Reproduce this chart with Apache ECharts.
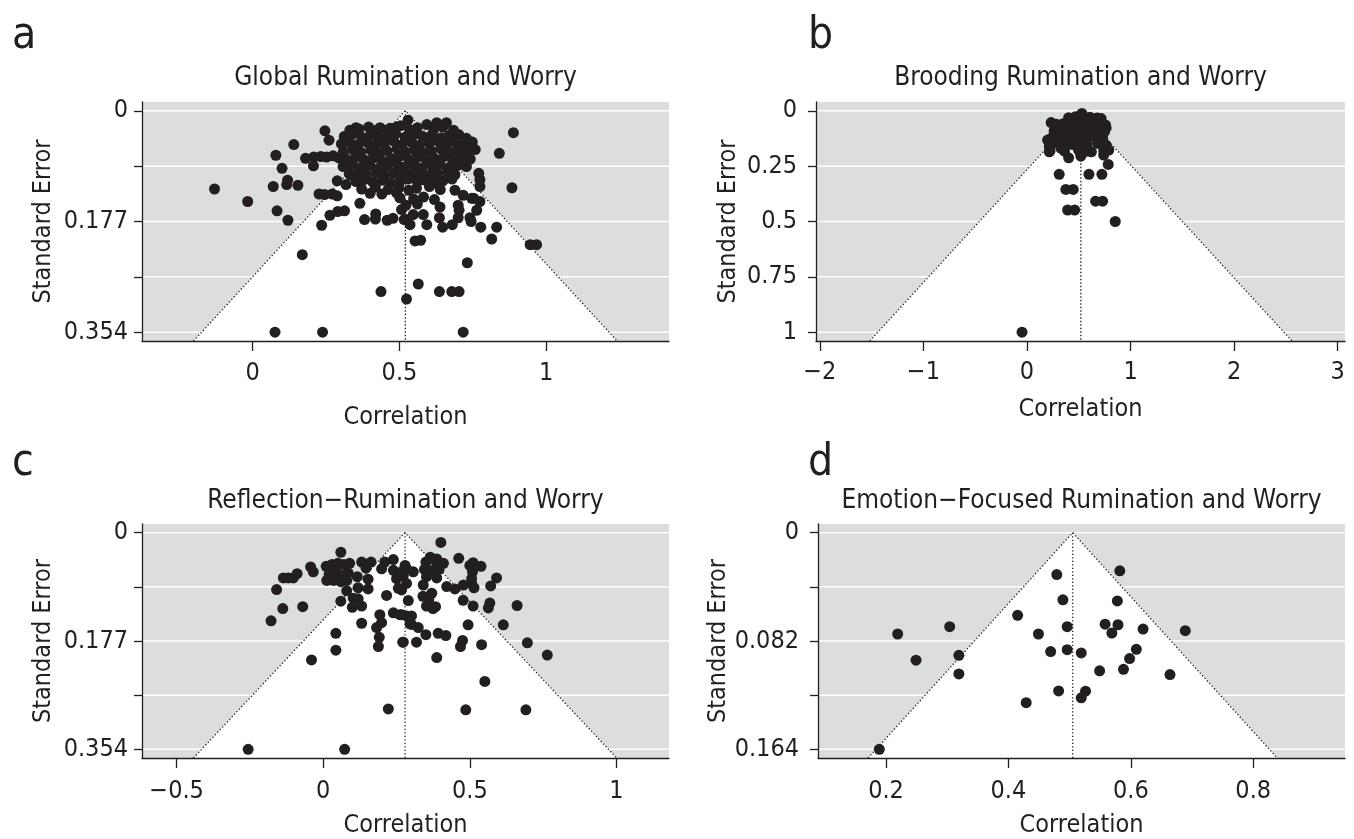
<!DOCTYPE html>
<html>
<head>
<meta charset="utf-8">
<title>Funnel plots: rumination and worry</title>
<script src="https://cdn.jsdelivr.net/npm/echarts@6/dist/echarts.min.js"></script>
<style>
  html, body { margin: 0; padding: 0; background: #fff; }
  #chart { width: 1354px; height: 839px; }
</style>
</head>
<body>
<div id="chart"></div>
<script>
// panel text
const panelLetters = ['a', 'b', 'c', 'd']
const panelTitles = [
  'Global Rumination and Worry',
  'Brooding Rumination and Worry',
  'Reflection\u2212Rumination and Worry',
  'Emotion\u2212Focused Rumination and Worry'
]

// pooled correlation (centre of each funnel)
const funnelCenters = [0.52, 0.52, 0.279, 0.505]

// axis ticks
const seTicks = [
  [0, 0.0885, 0.177, 0.2655, 0.354],
  [0, 0.25, 0.5, 0.75, 1],
  [0, 0.0885, 0.177, 0.2655, 0.354],
  [0, 0.041, 0.082, 0.123, 0.164]
]
const seLabels = [
  [0, 0.177, 0.354],
  [0, 0.25, 0.5, 0.75, 1],
  [0, 0.177, 0.354],
  [0, 0.082, 0.164]
]
const corrTicks = [
  [0, 0.5, 1],
  [-2, -1, 0, 1, 2, 3],
  [-0.5, 0, 0.5, 1],
  [0.2, 0.4, 0.6, 0.8]
]
const corrRanges = [[-0.377, 1.418], [-2.037, 3.07], [-0.618, 1.179], [0.0888, 0.950]]

// studies: [correlation, standard error]
const globalPoints = [
  [-0.13, 0.125], [-0.017, 0.145], [0.079, 0.071], [0.14, 0.054], [0.1, 0.092], [0.07, 0.121], [0.116, 0.118],
  [0.119, 0.111], [0.154, 0.119], [0.083, 0.16], [0.12, 0.175], [0.169, 0.23], [0.076, 0.354], [0.238, 0.354],
  [0.437, 0.289], [0.524, 0.301], [0.235, 0.183], [0.263, 0.167], [0.226, 0.133], [0.18, 0.076], [0.208, 0.074],
  [0.207, 0.088], [0.246, 0.032], [0.26, 0.047], [0.331, 0.031], [0.352, 0.027], [0.434, 0.027], [0.455, 0.032],
  [0.49, 0.026], [0.529, 0.015], [0.232, 0.073], [0.252, 0.074], [0.274, 0.072], [0.293, 0.075],
  [0.245, 0.134], [0.271, 0.133], [0.288, 0.136], [0.29, 0.161], [0.313, 0.16], [0.365, 0.148], [0.381, 0.174],
  [0.418, 0.173], [0.458, 0.175], [0.478, 0.172], [0.419, 0.165], [0.524, 0.174], [0.4, 0.132], [0.44, 0.133],
  [0.49, 0.131], [0.288, 0.112], [0.318, 0.118], [0.336, 0.103],
  [0.888, 0.035], [0.84, 0.068], [0.883, 0.123], [0.945, 0.214], [0.967, 0.214], [0.731, 0.243], [0.564, 0.277],
  [0.636, 0.289], [0.678, 0.289], [0.703, 0.289], [0.717, 0.354], [0.553, 0.208], [0.572, 0.207], [0.814, 0.205],
  [0.777, 0.186], [0.831, 0.186], [0.647, 0.186], [0.68, 0.182], [0.593, 0.182], [0.536, 0.182], [0.516, 0.174],
  [0.547, 0.166], [0.581, 0.166], [0.636, 0.171], [0.7, 0.171], [0.74, 0.171], [0.744, 0.177], [0.763, 0.159],
  [0.7, 0.151], [0.703, 0.159], [0.638, 0.154], [0.774, 0.121], [0.753, 0.14], [0.774, 0.145], [0.689, 0.127],
  [0.717, 0.135], [0.746, 0.14], [0.507, 0.158], [0.627, 0.019], [0.66, 0.019], [0.74, 0.063], [0.734, 0.074],
  [0.77, 0.1], [0.774, 0.11],
  [0.362, 0.029], [0.395, 0.026], [0.422, 0.031], [0.468, 0.028], [0.503, 0.024], [0.534, 0.03], [0.561, 0.027],
  [0.593, 0.022], [0.618, 0.029], [0.648, 0.026], [0.684, 0.031],
  [0.312, 0.041], [0.338, 0.038], [0.371, 0.042], [0.401, 0.039], [0.428, 0.043], [0.461, 0.04], [0.487, 0.037],
  [0.519, 0.042], [0.548, 0.039], [0.579, 0.041], [0.611, 0.038], [0.642, 0.043], [0.668, 0.04], [0.702, 0.038],
  [0.728, 0.044],
  [0.302, 0.053], [0.329, 0.05], [0.358, 0.054], [0.391, 0.051], [0.418, 0.055], [0.449, 0.052], [0.481, 0.049],
  [0.509, 0.054], [0.542, 0.051], [0.568, 0.055], [0.601, 0.052], [0.632, 0.049], [0.659, 0.054], [0.691, 0.051],
  [0.72, 0.053], [0.748, 0.05],
  [0.309, 0.065], [0.341, 0.062], [0.368, 0.066], [0.402, 0.063], [0.431, 0.067], [0.458, 0.064], [0.492, 0.061],
  [0.521, 0.066], [0.551, 0.063], [0.582, 0.067], [0.609, 0.064], [0.641, 0.061], [0.672, 0.066], [0.698, 0.063],
  [0.731, 0.065], [0.758, 0.062],
  [0.318, 0.077], [0.351, 0.074], [0.379, 0.078], [0.411, 0.075], [0.438, 0.079], [0.472, 0.076], [0.499, 0.073],
  [0.531, 0.078], [0.559, 0.075], [0.592, 0.079], [0.619, 0.076], [0.652, 0.073], [0.681, 0.078], [0.709, 0.075],
  [0.741, 0.077],
  [0.308, 0.089], [0.338, 0.086], [0.371, 0.09], [0.399, 0.087], [0.432, 0.091], [0.459, 0.088], [0.491, 0.085],
  [0.518, 0.09], [0.549, 0.087], [0.578, 0.091], [0.611, 0.088], [0.638, 0.085], [0.671, 0.09], [0.699, 0.087],
  [0.728, 0.089],
  [0.329, 0.101], [0.361, 0.098], [0.388, 0.102], [0.421, 0.099], [0.449, 0.103], [0.481, 0.1], [0.509, 0.097],
  [0.541, 0.102], [0.568, 0.099], [0.601, 0.103], [0.629, 0.1], [0.661, 0.097], [0.689, 0.102],
  [0.352, 0.113], [0.381, 0.11], [0.409, 0.114], [0.442, 0.111], [0.469, 0.115], [0.502, 0.112], [0.529, 0.109],
  [0.561, 0.114], [0.589, 0.111], [0.621, 0.115], [0.648, 0.112], [0.679, 0.109],
  [0.371, 0.125], [0.418, 0.122], [0.461, 0.126], [0.498, 0.123], [0.532, 0.127], [0.558, 0.124], [0.602, 0.121],
  [0.639, 0.126], [0.501, 0.139], [0.548, 0.141], [0.582, 0.138], [0.619, 0.142], [0.522, 0.151], [0.561, 0.149]
]

const broodingPoints = [
  [-0.048, 1.0], [0.852, 0.5], [0.392, 0.448], [0.46, 0.448], [0.662, 0.408], [0.73, 0.408], [0.375, 0.355],
  [0.446, 0.355], [0.311, 0.287], [0.598, 0.287], [0.723, 0.287], [0.784, 0.242], [0.402, 0.212], [0.52, 0.205],
  [0.622, 0.185], [0.216, 0.185], [0.216, 0.162], [0.199, 0.132], [0.233, 0.053], [0.764, 0.077], [0.79, 0.177],
  [0.74, 0.2], [0.716, 0.035], [0.53, 0.012], [0.33, 0.17], [0.38, 0.155], [0.317, 0.125],
  [0.402, 0.031], [0.468, 0.027], [0.541, 0.033], [0.609, 0.029], [0.678, 0.032],
  [0.282, 0.061], [0.348, 0.058], [0.421, 0.062], [0.489, 0.059], [0.561, 0.063], [0.628, 0.057], [0.701, 0.061],
  [0.758, 0.064],
  [0.262, 0.091], [0.331, 0.088], [0.398, 0.092], [0.471, 0.089], [0.542, 0.093], [0.611, 0.087], [0.682, 0.091],
  [0.748, 0.094],
  [0.241, 0.121], [0.309, 0.118], [0.382, 0.122], [0.451, 0.119], [0.522, 0.123], [0.591, 0.117], [0.661, 0.121],
  [0.731, 0.124],
  [0.221, 0.151], [0.302, 0.148], [0.441, 0.152], [0.509, 0.149], [0.578, 0.153], [0.681, 0.147], [0.762, 0.154],
  [0.223, 0.179], [0.361, 0.182], [0.498, 0.178], [0.571, 0.183], [0.741, 0.18]
]

const reflectionPoints = [
  [-0.256, 0.354], [0.073, 0.354], [0.222, 0.288], [-0.04, 0.208], [0.043, 0.192], [0.043, 0.1645], [-0.178, 0.144],
  [-0.138, 0.124], [-0.07, 0.121], [-0.159, 0.093], [-0.136, 0.074], [-0.119, 0.074], [-0.102, 0.074],
  [-0.089, 0.067], [-0.043, 0.056], [-0.034, 0.064], [0.06, 0.032],
  [0.01, 0.055], [0.03, 0.052], [0.05, 0.05], [0.07, 0.052], [0.09, 0.05], [0.02, 0.068], [0.045, 0.065],
  [0.065, 0.07], [0.085, 0.066], [0.012, 0.078], [0.035, 0.078], [0.06, 0.08], [0.08, 0.078],
  [0.08, 0.095], [0.06, 0.112], [0.102, 0.107], [0.119, 0.108], [0.131, 0.12], [0.099, 0.122], [0.116, 0.072],
  [0.153, 0.076], [0.153, 0.092], [0.119, 0.09], [0.131, 0.048], [0.163, 0.048], [0.146, 0.058], [0.131, 0.148],
  [0.193, 0.134], [0.199, 0.147], [0.182, 0.155], [0.191, 0.171], [0.188, 0.186], [0.216, 0.1025], [0.21, 0.048],
  [0.239, 0.044], [0.199, 0.059], [0.239, 0.0615], [0.25, 0.075], [0.273, 0.07], [0.284, 0.059], [0.256, 0.091],
  [0.284, 0.083], [0.239, 0.131], [0.261, 0.134], [0.284, 0.136], [0.296, 0.149], [0.271, 0.179], [0.29, 0.111],
  [0.401, 0.016], [0.462, 0.042],
  [0.35, 0.048], [0.365, 0.04], [0.38, 0.045], [0.39, 0.052], [0.41, 0.05], [0.345, 0.06], [0.37, 0.062],
  [0.395, 0.06], [0.387, 0.043],
  [0.279, 0.0535], [0.307, 0.064], [0.267, 0.064], [0.352, 0.072], [0.387, 0.074], [0.341, 0.0855], [0.37, 0.099],
  [0.267, 0.0935], [0.421, 0.088], [0.449, 0.092], [0.478, 0.0855], [0.506, 0.083], [0.514, 0.09], [0.5, 0.0535],
  [0.511, 0.049], [0.538, 0.055], [0.509, 0.064], [0.506, 0.075], [0.591, 0.074], [0.571, 0.087], [0.661, 0.119],
  [0.477, 0.1105], [0.511, 0.12], [0.563, 0.123], [0.568, 0.115], [0.614, 0.1506], [0.494, 0.1506],
  [0.267, 0.134], [0.301, 0.136], [0.301, 0.15], [0.324, 0.155], [0.35, 0.1666], [0.392, 0.1645], [0.418, 0.168],
  [0.273, 0.179], [0.318, 0.179], [0.475, 0.176], [0.468, 0.186], [0.54, 0.183], [0.696, 0.18], [0.764, 0.2],
  [0.387, 0.204], [0.551, 0.243], [0.486, 0.2895], [0.691, 0.2895],
  [0.352, 0.12], [0.374, 0.124], [0.383, 0.121], [0.34, 0.104], [0.36, 0.11]
]

const emotionPoints = [
  [0.189, 0.164], [0.219, 0.0767], [0.249, 0.0965], [0.304, 0.0712], [0.319, 0.0928], [0.319, 0.1069],
  [0.415, 0.0626], [0.449, 0.0767], [0.469, 0.09], [0.479, 0.0317], [0.489, 0.0508], [0.496, 0.0712],
  [0.496, 0.0886], [0.519, 0.091], [0.429, 0.1287], [0.482, 0.1198], [0.519, 0.125], [0.526, 0.12],
  [0.549, 0.1046], [0.558, 0.0693], [0.569, 0.076], [0.579, 0.0697], [0.578, 0.0517], [0.582, 0.0289],
  [0.588, 0.1034], [0.598, 0.0953], [0.609, 0.0883], [0.62, 0.073], [0.664, 0.1074], [0.689, 0.0742]
]

const panelPoints = [globalPoints, broodingPoints, reflectionPoints, emotionPoints]

const ink = '#231f20'
const shade = '#dcdddf'
const font = "'Liberation Sans Narrow', 'Arial Narrow', 'DejaVu Sans Condensed', sans-serif"

const boxes = [
  { left: 142, top: 102, width: 527, height: 239, labelMargin: 20, xNameGap: 64, yMargin: 14, yNameGap: 86, titleY: 77, letterY: 37 },
  { left: 816, top: 102, width: 529, height: 239, labelMargin: 19, xNameGap: 56, yMargin: 19, yNameGap: 75, titleY: 77, letterY: 37 },
  { left: 142, top: 524, width: 527, height: 239, labelMargin: 21, xNameGap: 55, yMargin: 14, yNameGap: 86, titleY: 500, letterY: 464 },
  { left: 818, top: 524, width: 527, height: 239, labelMargin: 21, xNameGap: 55, yMargin: 19, yNameGap: 77, titleY: 500, letterY: 464 }
]

function fmt(v) {
  return String(v).replace('-', '\u2212')
}

// white funnel, white reference lines and the dotted edges, drawn in data space
function funnelBackdrop(i) {
  const c = funnelCenters[i]
  const ticks = seTicks[i]
  const yMax = ticks[ticks.length - 1] * 1.04
  const xr = corrRanges[i]
  return {
    type: 'custom',
    xAxisIndex: i,
    yAxisIndex: i,
    silent: true,
    z: 1,
    clip: false,
    data: [[c, 0]],
    renderItem: function(params, api) {
      const kids = []
      ticks.forEach(function(t) {
        const a = api.coord([xr[0], t])
        const b = api.coord([xr[1], t])
        kids.push({ type: 'line', shape: { x1: a[0], y1: a[1], x2: b[0], y2: b[1] }, style: { stroke: '#fff', lineWidth: 1.5 }})
      })
      const apex = api.coord([c, 0])
      const bl = api.coord([c - 1.96 * yMax, yMax])
      const br = api.coord([c + 1.96 * yMax, yMax])
      const bc = api.coord([c, yMax])
      kids.push({ type: 'polygon', shape: { points: [apex, bl, br] }, style: { fill: '#fff' }})
      kids.push({ type: 'polyline', shape: { points: [bl, apex, br] }, style: { stroke: ink, lineWidth: 1.3, lineDash: [1.3, 2.2], fill: null }})
      kids.push({ type: 'line', shape: { x1: apex[0], y1: apex[1], x2: bc[0], y2: bc[1] }, style: { stroke: ink, lineWidth: 1.3, lineDash: [1.3, 2.2] }})
      return { type: 'group', children: kids }
    }
  }
}

const chart = echarts.init(document.getElementById('chart'), null, { renderer: 'canvas' })

const grid = []
const xAxis = []
const yAxis = []
const series = []
const title = []

boxes.forEach(function(b, i) {
  const top = seTicks[i][seTicks[i].length - 1]
  grid.push({ left: b.left, top: b.top, width: b.width, height: b.height, show: true, backgroundColor: shade, borderWidth: 0, z: 0 })

  xAxis.push({
    type: 'value',
    gridIndex: i,
    min: corrRanges[i][0],
    max: corrRanges[i][1],
    z: 3,
    name: 'Correlation',
    nameLocation: 'middle',
    nameGap: b.xNameGap,
    nameTextStyle: { color: ink, fontSize: 25, fontFamily: font },
    axisLine: { show: true, onZero: false, lineStyle: { color: ink, width: 1.3 }},
    axisTick: { show: true, length: 10, customValues: corrTicks[i], lineStyle: { color: ink, width: 1.3 }},
    axisLabel: { customValues: corrTicks[i], margin: b.labelMargin, color: ink, fontSize: 25, fontFamily: font, formatter: fmt },
    splitLine: { show: false }
  })

  yAxis.push({
    type: 'value',
    gridIndex: i,
    inverse: true,
    min: -top * 0.04,
    max: top * 1.04,
    z: 3,
    name: 'Standard Error',
    nameLocation: 'middle',
    nameGap: b.yNameGap,
    nameTextStyle: { color: ink, fontSize: 25, fontFamily: font },
    axisLine: { show: true, onZero: false, lineStyle: { color: ink, width: 1.3 }},
    axisTick: { show: true, length: 8, customValues: seTicks[i], lineStyle: { color: ink, width: 1.3 }},
    axisLabel: { customValues: seLabels[i], margin: b.yMargin, color: ink, fontSize: 25, fontFamily: font, formatter: fmt },
    splitLine: { show: false }
  })

  series.push(funnelBackdrop(i))
  series.push({
    type: 'scatter',
    name: panelTitles[i],
    xAxisIndex: i,
    yAxisIndex: i,
    z: 4,
    symbol: 'circle',
    symbolSize: 11,
    itemStyle: { color: ink, opacity: 1 },
    data: panelPoints[i]
  })

  title.push({
    text: panelTitles[i],
    left: b.left + b.width / 2,
    top: b.titleY - 13,
    textAlign: 'center',
    padding: 0,
    textStyle: { color: ink, fontSize: 26, fontWeight: 'normal', fontFamily: font, lineHeight: 28 }
  })
  title.push({
    text: panelLetters[i],
    left: i % 2 === 0 ? 12 : 808,
    top: b.letterY - 22,
    padding: 0,
    textStyle: { color: ink, fontSize: 44, fontWeight: 'normal', fontFamily: font, lineHeight: 44 }
  })
})

chart.setOption({
  backgroundColor: '#fff',
  animation: false,
  title: title,
  grid: grid,
  xAxis: xAxis,
  yAxis: yAxis,
  series: series
})
</script>
</body>
</html>
